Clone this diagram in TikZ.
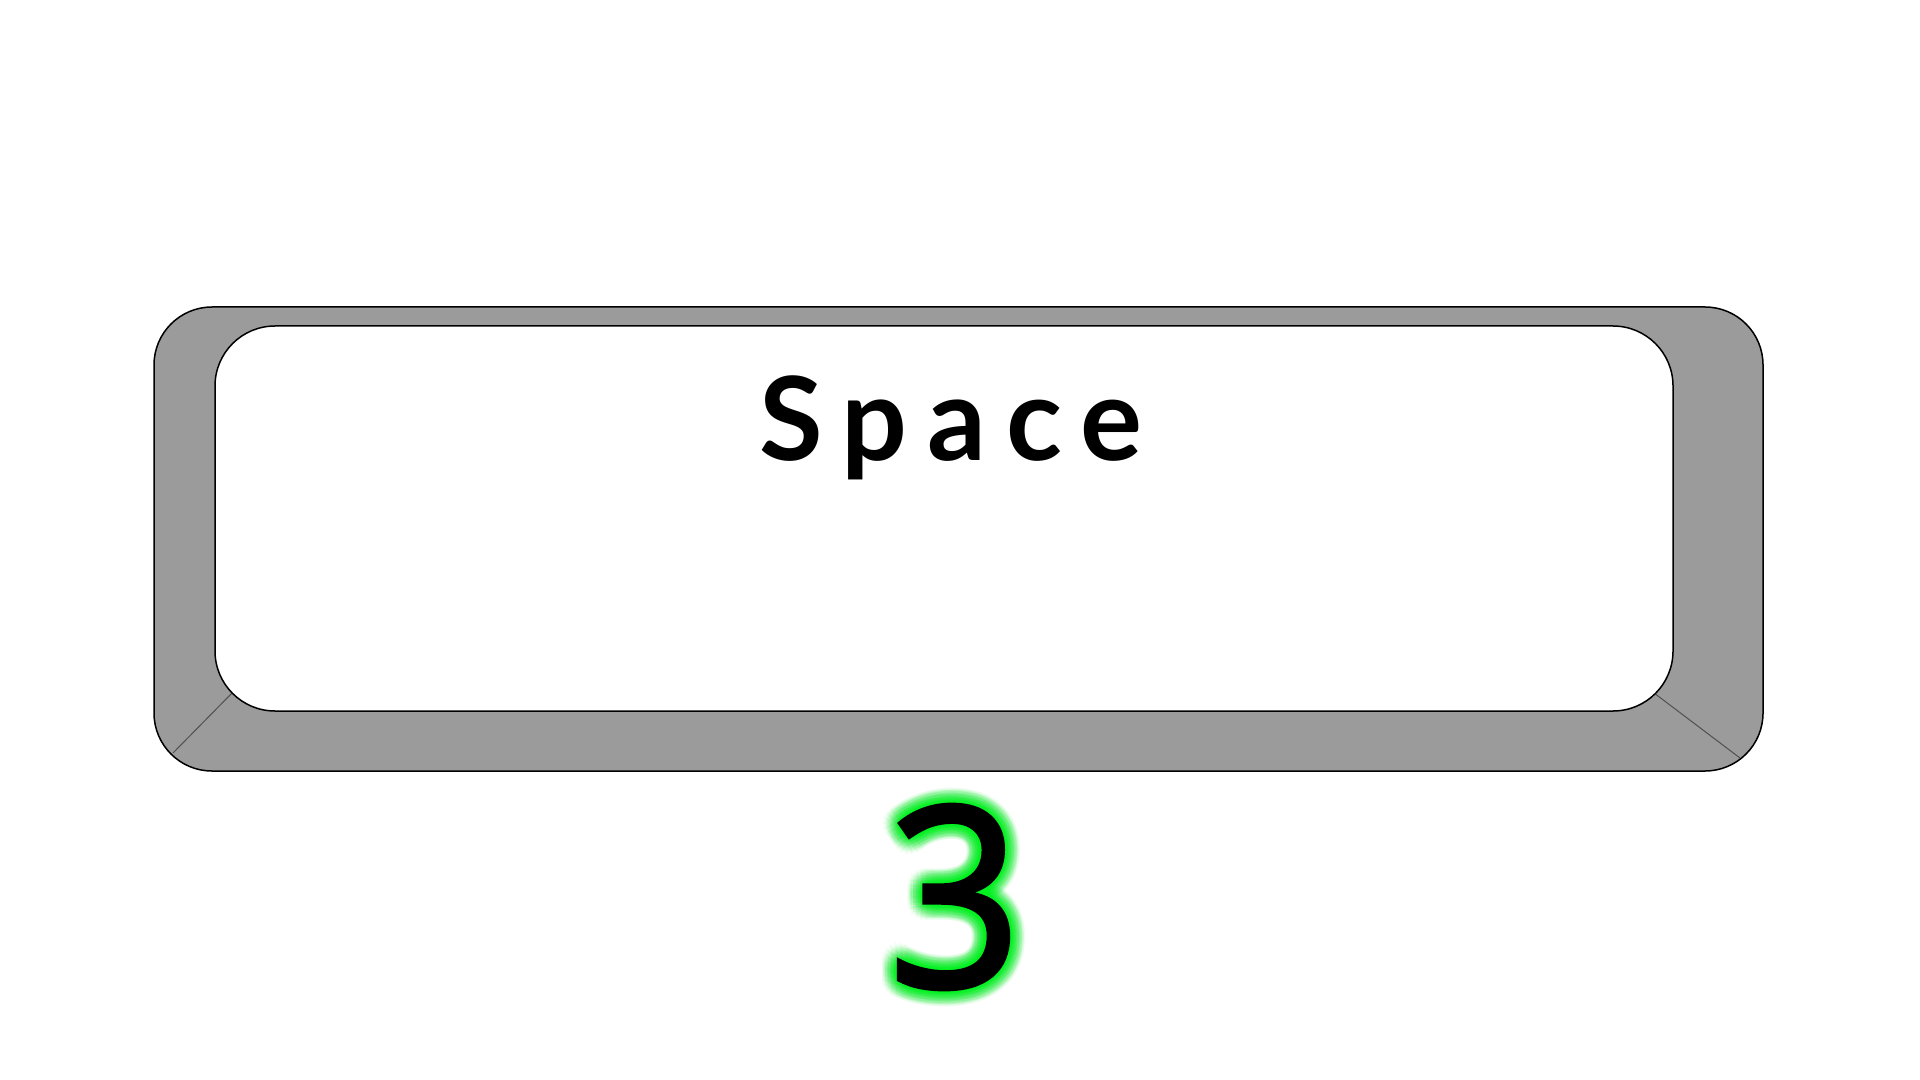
\documentclass[tikz,border=0pt]{standalone}
\usepackage{fontspec}
\usetikzlibrary{calc}
\setmainfont{Lato}
\newfontfamily\digitfont{Open Sans}[FakeBold=1.5, FakeStretch=0.93]
\definecolor{keygray}{HTML}{9B9B9B}
\definecolor{seamgray}{HTML}{505050}
\definecolor{glowgreen}{HTML}{00F020}
\tikzset{
  keyouter/.style={draw=black, fill=keygray, line width=0.75pt, rounded corners=29pt},
  keyinner/.style={draw=black, fill=white, line width=0.75pt, rounded corners=30pt},
  seam/.style={draw=seamgray, line width=0.5pt},
  keylabel/.style={inner sep=0pt, anchor=base, font=\bfseries\fontsize{58}{60}\selectfont\addfontfeature{LetterSpace=17}},
  countlabel/.style={inner sep=0pt, anchor=center, font=\digitfont\fontsize{126}{130}\selectfont},
  glowcopy/.style={countlabel, text=glowgreen, opacity=0.055}
}
\begin{document}
\begin{tikzpicture}[x=0.5pt, y=-0.5pt]
  \useasboundingbox (0,0) rectangle (1920,1080);
  \fill[white] (0,0) rectangle (1920,1080);
  % key cap
  \path[keyouter] (154,307) rectangle (1763,771);
  \coordinate (seamBLin) at (233,692);
  \coordinate (seamBLout) at (173,753);
  \coordinate (seamBRin) at (1654,693);
  \coordinate (seamBRout) at (1740,758);
  \draw[seam] (seamBLin) -- (seamBLout);
  \draw[seam] (seamBRin) -- (seamBRout);
  \path[keyinner] (215,326) rectangle (1673,711);
  % label
  \node[keylabel] (spacelabel) at (951,460) {Space};
  % glowing counter
  \coordinate (countpos) at (955,897);
  \foreach \r in {15,12,9,6,3} {
    \foreach \a in {0,20,...,340} {
      \node[glowcopy] (glow-\r-\a) at ($(countpos)+(\a:\r)$) {3};
    }
  }
  \node[countlabel] (count) at (countpos) {3};
\end{tikzpicture}
\end{document}
